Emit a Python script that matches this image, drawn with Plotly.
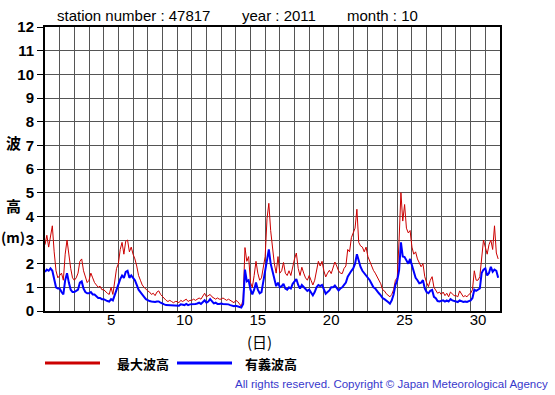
import plotly.graph_objects as go

# ---- data (3-hourly readings, 8 per day) ----
days = list(range(1, 32))
hours = [0, 3, 6, 9, 12, 15, 18, 21]

max_wave = [
    2.8, 3.2, 2.7, 3.1, 3.6, 2.5, 1.7, 1.4,      # 1
    1.5, 1.6, 1.3, 2.4, 3.0, 2.3, 1.8, 1.4,      # 2
    1.3, 1.4, 1.6, 2.1, 2.2, 1.7, 1.4, 1.2,      # 3
    1.3, 1.6, 1.4, 1.2, 1.1, 1.0, 1.05, 0.9,     # 4
    0.9, 0.8, 0.75, 0.7, 1.0, 0.7, 1.2, 1.8,     # 5
    2.0, 2.6, 2.9, 2.4, 2.95, 3.0, 2.5, 2.7,     # 6
    2.4, 2.2, 1.9, 1.5, 1.3, 1.1, 1.0, 0.9,      # 7
    0.85, 0.8, 0.7, 0.75, 0.65, 0.8, 0.85, 0.7,  # 8
    0.6, 0.5, 0.45, 0.4, 0.45, 0.4, 0.35, 0.4,   # 9
    0.4, 0.35, 0.45, 0.4, 0.45, 0.5, 0.4, 0.45,  # 10
    0.45, 0.5, 0.45, 0.5, 0.55, 0.5, 0.6, 0.75,  # 11
    0.6, 0.65, 0.7, 0.6, 0.55, 0.5, 0.55, 0.5,   # 12
    0.5, 0.55, 0.5, 0.45, 0.5, 0.45, 0.4, 0.35,  # 13
    0.45, 0.4, 0.3, 0.2, 0.5, 2.68, 2.1, 2.3,    # 14
    1.2, 1.0, 1.5, 2.1, 1.6, 1.3, 1.4, 1.9,      # 15
    2.3, 3.9, 4.55, 3.4, 2.6, 2.0, 1.6, 2.3,     # 16
    1.6, 1.7, 2.05, 1.6, 1.5, 1.7, 1.5, 1.9,     # 17
    2.2, 2.45, 1.8, 1.5, 1.85, 1.6, 1.4, 1.3,    # 18
    1.5, 1.3, 1.1, 1.3, 1.7, 2.1, 1.9, 2.1,      # 19
    1.7, 1.44, 1.6, 1.72, 1.58, 1.8, 2.07, 1.9,  # 20
    1.7, 1.6, 1.58, 1.8, 1.9, 2.6, 2.5, 3.1,     # 21
    3.3, 3.5, 4.3, 2.9, 2.75, 2.7, 2.5, 2.7,     # 22
    2.3, 2.1, 1.9, 1.72, 1.6, 1.44, 1.3, 1.15,   # 23
    0.9, 0.85, 0.73, 0.65, 0.6, 0.7, 0.9, 1.3,   # 24
    1.4, 3.0, 5.0, 3.8, 4.5, 3.5, 3.3, 3.4,      # 25
    2.7, 2.4, 2.5, 2.2, 2.0, 1.87, 2.0, 1.45,    # 26
    1.2, 1.03, 1.3, 1.45, 1.0, 0.89, 0.75, 0.8,  # 27
    0.7, 0.8, 0.65, 0.75, 0.6, 0.8, 0.7, 0.65,   # 28
    0.65, 0.6, 0.85, 0.7, 0.6, 0.65, 0.6, 0.7,   # 29
    0.75, 0.9, 1.7, 1.3, 1.3, 1.45, 2.2, 3.0,    # 30
    2.7, 2.4, 2.8, 3.0, 2.6, 3.6, 2.45, 2.2,     # 31
]

sig_wave = [
    1.65, 1.75, 1.7, 1.8, 1.7, 1.4, 1.0, 0.95,    # 1
    0.95, 0.8, 0.7, 1.3, 1.6, 1.2, 0.9, 0.8,      # 2
    0.8, 0.85, 0.9, 1.2, 1.25, 0.95, 0.8, 0.75,   # 3
    0.75, 0.8, 0.7, 0.7, 0.6, 0.55, 0.55, 0.5,    # 4
    0.5, 0.45, 0.42, 0.4, 0.5, 0.45, 0.7, 0.95,   # 5
    1.1, 1.35, 1.5, 1.4, 1.65, 1.7, 1.4, 1.5,     # 6
    1.4, 1.3, 1.1, 0.9, 0.8, 0.68, 0.6, 0.5,      # 7
    0.45, 0.42, 0.4, 0.38, 0.38, 0.4, 0.4, 0.35,  # 8
    0.3, 0.28, 0.25, 0.25, 0.25, 0.22, 0.22, 0.25,  # 9
    0.25, 0.22, 0.28, 0.25, 0.25, 0.3, 0.25, 0.28,  # 10
    0.28, 0.3, 0.3, 0.32, 0.35, 0.3, 0.4, 0.45,   # 11
    0.35, 0.4, 0.5, 0.4, 0.32, 0.35, 0.3, 0.3,    # 12
    0.32, 0.3, 0.3, 0.28, 0.28, 0.25, 0.22, 0.2,  # 13
    0.22, 0.2, 0.15, 0.15, 0.3, 1.75, 1.25, 1.3,  # 14
    0.9, 0.7, 0.9, 1.2, 0.9, 0.75, 0.8, 1.3,      # 15
    1.6, 2.3, 2.6, 2.0, 1.7, 1.3, 1.05, 1.2,      # 16
    1.0, 1.05, 1.15, 0.95, 0.9, 1.0, 0.95, 1.15,  # 17
    1.25, 1.35, 1.1, 0.95, 1.1, 1.0, 0.9, 0.85,   # 18
    0.9, 0.8, 0.66, 0.8, 1.0, 1.1, 1.05, 1.1,     # 19
    0.9, 0.73, 0.8, 0.87, 1.0, 1.0, 1.08, 0.95,   # 20
    0.87, 0.95, 1.0, 1.1, 1.2, 1.45, 1.6, 1.7,    # 21
    1.8, 2.0, 2.4, 2.1, 1.86, 1.7, 1.6, 1.5,      # 22
    1.45, 1.3, 1.15, 1.0, 0.95, 0.87, 0.75, 0.66, # 23
    0.55, 0.5, 0.45, 0.38, 0.31, 0.45, 0.7, 1.1,  # 24
    1.3, 1.72, 2.9, 2.3, 2.28, 2.14, 2.0, 2.2,    # 25
    1.9, 1.6, 1.4, 1.3, 1.17, 1.2, 1.3, 0.95,     # 26
    0.8, 0.75, 0.85, 0.89, 0.6, 0.54, 0.42, 0.4,  # 27
    0.42, 0.45, 0.4, 0.45, 0.4, 0.5, 0.45, 0.42,  # 28
    0.4, 0.38, 0.45, 0.4, 0.38, 0.4, 0.38, 0.42,  # 29
    0.45, 0.55, 0.9, 0.85, 0.89, 0.95, 1.6, 1.75, # 30
    1.8, 1.5, 1.6, 1.87, 1.66, 1.75, 1.7, 1.4,    # 31
]

x_tick_vals = [5, 10, 15, 20, 25, 30]
y_tick_vals = list(range(0, 13))

# time axis: day + hour/24 ; day d spans [d, d+1)
times = [d + h / 24 for d in days for h in hours]

RED = "#cc0000"
BLUE = "#0000ff"
GRID = "#555555"
LAT = "Liberation Sans, Arial, sans-serif"
CJK = "Noto Sans CJK JP, sans-serif"

fig = go.Figure()
fig.add_trace(go.Scatter(x=times, y=max_wave, mode="lines",
                         line=dict(color=RED, width=1), name="最大波高"))
fig.add_trace(go.Scatter(x=times, y=sig_wave, mode="lines",
                         line=dict(color=BLUE, width=2), name="有義波高"))

fig.update_layout(
    width=555, height=395,
    margin=dict(l=45, r=55, t=27, b=84),
    paper_bgcolor="white", plot_bgcolor="white",
    showlegend=False,
    font=dict(family=LAT, color="black"),
)

fig.update_xaxes(
    range=[1, 32],
    tickmode="array",
    tickvals=[v + 0.5 for v in x_tick_vals],
    ticktext=[str(v) for v in x_tick_vals],
    ticks="", showgrid=False, zeroline=False,
    ticklabelstandoff=-6,
    tickfont=dict(size=15, family=LAT, color="black"),
    minor=dict(tickmode="linear", tick0=1, dtick=1, showgrid=True,
               gridcolor=GRID, gridwidth=1, ticks=""),
    showline=True, linecolor="black", linewidth=2, mirror=True,
)
fig.update_yaxes(
    range=[0, 12],
    tickmode="array", tickvals=y_tick_vals,
    ticktext=[str(v) for v in y_tick_vals],
    ticks="outside", ticklen=6, tickcolor="black", tickwidth=1,
    showgrid=True, gridcolor=GRID, gridwidth=1, zeroline=False,
    tickfont=dict(size=15, family=LAT, color="black", weight="bold"),
    showline=True, linecolor="black", linewidth=2, mirror=True,
)

PX0, PX1, PY0, PY1 = 45, 500, 27, 311


def px(x):
    return (x - PX0) / (PX1 - PX0)


def py(y):
    return (PY1 - y) / (PY1 - PY0)


def note(text, x, y, size, family=LAT, weight="normal", color="black", xanchor="center"):
    fig.add_annotation(text=text, x=px(x), y=py(y), xref="paper", yref="paper",
                       showarrow=False, xanchor=xanchor, yanchor="middle",
                       font=dict(size=size, family=family, color=color, weight=weight))


# title
note("station number : 47817", 55, 16, 15, xanchor="left")
note("year : 2011", 240, 16, 15, xanchor="left")
note("month : 10", 345, 16, 15, xanchor="left")

# y axis title
note("波", 13, 142, 15, family=CJK, weight="bold")
note("高", 13, 205, 15, family=CJK, weight="bold")
note("(m)", 13, 237, 14, family=CJK, weight="bold")

# x axis title
note("(日)", 259, 341, 15, family=CJK)

# legend
for (x0, x1, c) in [(45, 100, RED), (177, 232, BLUE)]:
    fig.add_shape(type="line", xref="paper", yref="paper",
                  x0=px(x0), x1=px(x1), y0=py(363), y1=py(363),
                  line=dict(color=c, width=3))
note("最大波高", 115, 363, 13, family=CJK, weight="bold", xanchor="left")
note("有義波高", 243, 363, 13, family=CJK, weight="bold", xanchor="left")

# copyright
note("All rights reserved. Copyright © Japan Meteorological Agency", 550, 384, 11.5,
     color="#3838cc", xanchor="right")

fig.write_html("out.html", config={"displayModeBar": False},
               post_script="document.body.style.margin='0';document.body.style.overflow='hidden';")
